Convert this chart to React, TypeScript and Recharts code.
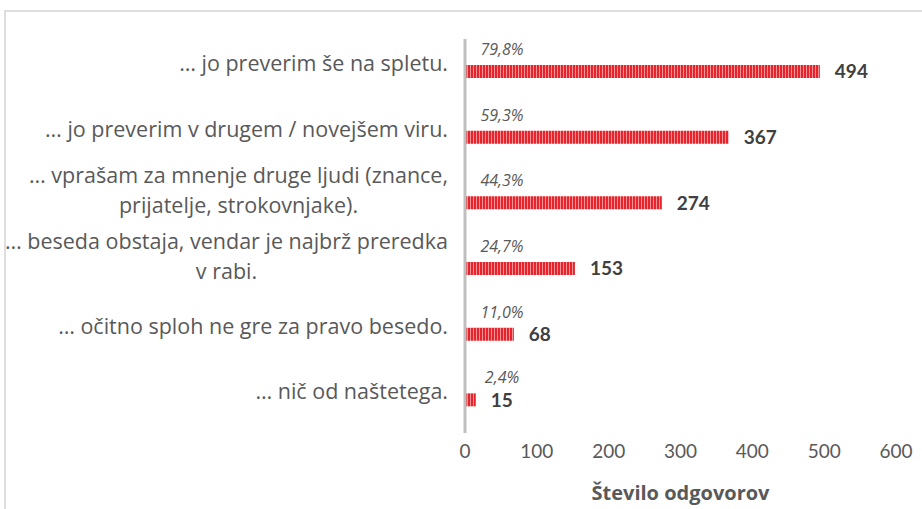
import { Bar, BarChart, LabelList, XAxis, YAxis } from 'recharts'

const categories = [
  '… jo preverim še na spletu.',
  '… jo preverim v drugem / novejšem viru.',
  '… vprašam za mnenje druge ljudi (znance,\nprijatelje, strokovnjake).',
  '… beseda obstaja, vendar je najbrž preredka\nv rabi.',
  '… očitno sploh ne gre za pravo besedo.',
  '… nič od naštetega.',
]
const counts = [494, 367, 274, 153, 68, 15]
const percents = ['79,8%', '59,3%', '44,3%', '24,7%', '11,0%', '2,4%']
const xTicks = [0, 100, 200, 300, 400, 500, 600]

const data = categories.map((name, i) => ({ name, count: counts[i], pct: percents[i] }))

const FONT = 'Lato, "Open Sans", sans-serif'
const CAT_FONT = '"Open Sans", sans-serif'
const TEXT = '#595959'

let ctx: CanvasRenderingContext2D | null = null
function measure(text: string, size: number) {
  if (!ctx) ctx = document.createElement('canvas').getContext('2d')
  if (!ctx) return text.length * size * 0.5
  ctx.font = `${size}px "Open Sans"`
  return ctx.measureText(text).width
}

function CategoryTick(props: any) {
  const { x, y, payload } = props
  const lines: string[] = String(payload.value).split('\n')
  const size = 21.5
  const multi = lines.length > 1
  const w = Math.max(...lines.map((l) => measure(l, size)))
  const lh = 29.5
  const startY = y - (multi ? 14 : 10) - ((lines.length - 1) * lh) / 2
  return (
    <text
      x={multi ? x - w / 2 : x}
      y={startY}
      textAnchor={multi ? 'middle' : 'end'}
      dominantBaseline="central"
      fontSize={size}
      fontFamily={CAT_FONT}
      fill={TEXT}
    >
      {lines.map((l, i) => (
        <tspan key={i} x={multi ? x - w / 2 : x} dy={i === 0 ? 0 : lh}>
          {l}
        </tspan>
      ))}
    </text>
  )
}

function PctLabel(props: any) {
  const { x, y, value } = props
  return (
    <text
      x={x + 37}
      y={y - 16}
      textAnchor="middle"
      dominantBaseline="central"
      fontSize={16}
      fontStyle="italic"
      fontFamily={CAT_FONT}
      fill={TEXT}
    >
      {value}
    </text>
  )
}

export default function App() {
  return (
    <div style={{ position: 'fixed', left: 0, top: 0, width: 922, height: 509, background: '#fff', overflow: 'hidden' }}>
      <div
        style={{
          position: 'absolute',
          left: 4,
          top: 10,
          width: 930,
          height: 520,
          borderTop: '2px solid #dedede',
          borderLeft: '2px solid #dedede',
        }}
      />
      <div style={{ position: 'absolute', left: 0, top: 0 }}>
        <BarChart
          width={922}
          height={509}
          data={data}
          layout="vertical"
          margin={{ top: 39, right: 26, bottom: 6, left: 0 }}
          barCategoryGap={0}
        >
          <defs>
            <pattern id="stripes" patternUnits="userSpaceOnUse" width={3} height={10}>
              <rect x={0} y={0} width={2} height={10} fill="#e5242b" />
              <rect x={2} y={0} width={1} height={10} fill="#f39196" />
            </pattern>
          </defs>
          <XAxis
            type="number"
            domain={[0, 600]}
            ticks={xTicks}
            axisLine={false}
            tickLine={false}
            tickSize={0}
            tickMargin={12}
            height={70}
            tick={{ fill: TEXT, fontSize: 19, fontFamily: FONT }}
            label={{
              value: 'Število odgovorov',
              position: 'insideBottom',
              offset: 3,
              fill: TEXT,
              fontSize: 20,
              fontWeight: 'bold',
              fontFamily: CAT_FONT,
            }}
          />
          <YAxis
            type="category"
            dataKey="name"
            width={465}
            axisLine={{ stroke: '#bfbfbf', strokeWidth: 3 }}
            tickLine={false}
            tickSize={0}
            tickMargin={17}
            interval={0}
            tick={<CategoryTick />}
          />
          <Bar dataKey="count" fill="url(#stripes)" barSize={13} isAnimationActive={false}>
            <LabelList dataKey="pct" content={<PctLabel />} />
            <LabelList
              dataKey="count"
              position="right"
              offset={15}
              fill="#404040"
              fontSize={19}
              fontWeight="bold"
              fontFamily={FONT}
            />
          </Bar>
        </BarChart>
      </div>
    </div>
  )
}
